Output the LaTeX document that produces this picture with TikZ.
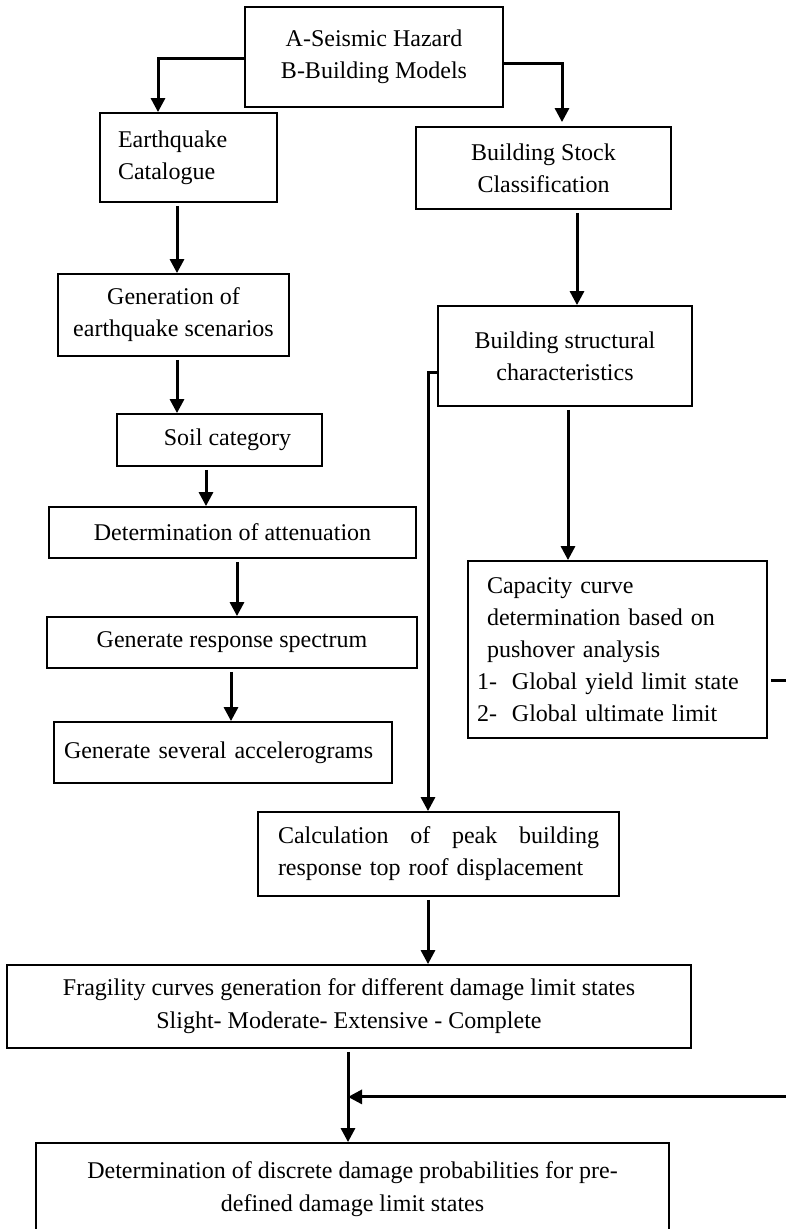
\documentclass[tikz,border=0pt]{standalone}
\usepackage{fontspec}
\setmainfont{Liberation Serif}
\usetikzlibrary{arrows.meta,calc}
\tikzset{
  box/.style      = {shape=rectangle, draw, line width=1.8pt, align=center,
                     inner sep=0pt, font=\fontsize{24}{32}\selectfont},
  leftbox/.style  = {box, align=left},
  widebox/.style  = {box, font=\fontsize{24}{33}\selectfont},
  arr/.style      = {line width=3pt, ->, shorten <=3pt}
}

\begin{document}
\begin{tikzpicture}
  [x=1pt, y=-1pt, >={Triangle[length=14pt,width=14pt]}]
  \useasboundingbox (0,0) rectangle (785,1229);
  % hazard and building inputs
  \node [box, minimum width=258pt, minimum height=100pt] (haz) at (374,57)
    {A-Seismic Hazard\\B-Building Models};
  \node [leftbox, minimum height=89pt, inner xsep=18pt, text width=141pt] (cat) at (188.5,157.5)
    {Earthquake\\Catalogue};
  \node [box, minimum width=255pt, minimum height=82pt] (stk) at (543.5,168)
    {Building Stock\\Classification};
  % left branch
  \node [box, minimum width=231pt, minimum height=82pt] (gen) at (173.5,315)
    {Generation of\\earthquake scenarios};
  \node [box, minimum width=205pt, minimum height=52pt] (soil) at (219.5,440)
    {\hspace*{16pt}Soil category};
  \node [box, minimum width=367pt, minimum height=51pt] (att) at (232.5,532.5)
    {Determination of attenuation};
  \node [box, minimum width=370pt, minimum height=51pt] (rsp) at (232,642.5)
    {Generate response spectrum};
  \node [leftbox, minimum height=61pt, inner xsep=10pt, text width=318pt] (acc) at (223,752.5)
    {Generate several accelerograms};
  % right branch
  \node [box, minimum width=254pt, minimum height=100pt] (str) at (565,356)
    {Building structural\\characteristics};
  \node [leftbox, minimum height=177pt, inner xsep=9pt, text width=281pt] (cap) at (617.5,649.5)
    {\hspace*{10pt}Capacity curve\\
     \hspace*{10pt}determination based on\\
     \hspace*{10pt}pushover analysis\\
     \makebox[35pt][l]{1-}Global yield limit state\\
     \makebox[35pt][l]{2-}Global ultimate limit};
  % response and damage
  \node [leftbox, minimum height=84pt, inner xsep=20pt, text width=321pt] (calc) at (438.5,854)
    {Calculation\hfill of\hfill peak\hfill building\\response top roof displacement};
  \node [widebox, minimum width=684pt, minimum height=83pt] (frg) at (349,1006.5)
    {Fragility curves generation for different damage limit states\\
     Slight- Moderate- Extensive - Complete};
  \node [widebox, minimum width=633pt, minimum height=92pt] (det) at (352.5,1189)
    {Determination of discrete damage probabilities for pre-\\defined damage limit states};
  \coordinate (join) at ($(frg.south)+(-1,48)$);

  \draw [arr, shorten <=0pt] ([yshift=-1pt]haz.west) -| ([xshift=-30.5pt]cat.north);
  \draw [arr, shorten <=0pt, shorten >=4pt] ([yshift=-6pt]haz.east) -| ([xshift=18.5pt]stk.north);
  \draw [arr] ([xshift=-11.5pt]cat.south) -- ([xshift=3.5pt]gen.north);
  \draw [arr] ([xshift=3.5pt]gen.south) -- ([xshift=-42.5pt]soil.north);
  \draw [arr] ([xshift=-13.5pt]soil.south) -- ([xshift=-26.5pt]att.north);
  \draw [arr] ([xshift=4.5pt]att.south) -- ([xshift=5pt]rsp.north);
  \draw [arr] ([xshift=-1pt]rsp.south) -- ([xshift=8pt]acc.north);
  \draw [arr] ([xshift=33.5pt]stk.south) -- ([xshift=12pt]str.north);
  \draw [arr] ([xshift=3pt]str.south) -- ([xshift=-49.5pt]cap.north);
  \draw [arr, shorten <=0pt] ([yshift=-16pt]str.west) -| ([xshift=-10.5pt]calc.north);
  \draw [arr] ([xshift=-10.5pt]calc.south) -- ([xshift=79pt]frg.north);
  \draw [arr] ([xshift=-1pt]frg.south) -- ([xshift=-4.5pt]det.north);
  \draw [arr] ([yshift=-30.5pt]cap.east) -- ++(40,0) |- (join);
\end{tikzpicture}
\end{document}
